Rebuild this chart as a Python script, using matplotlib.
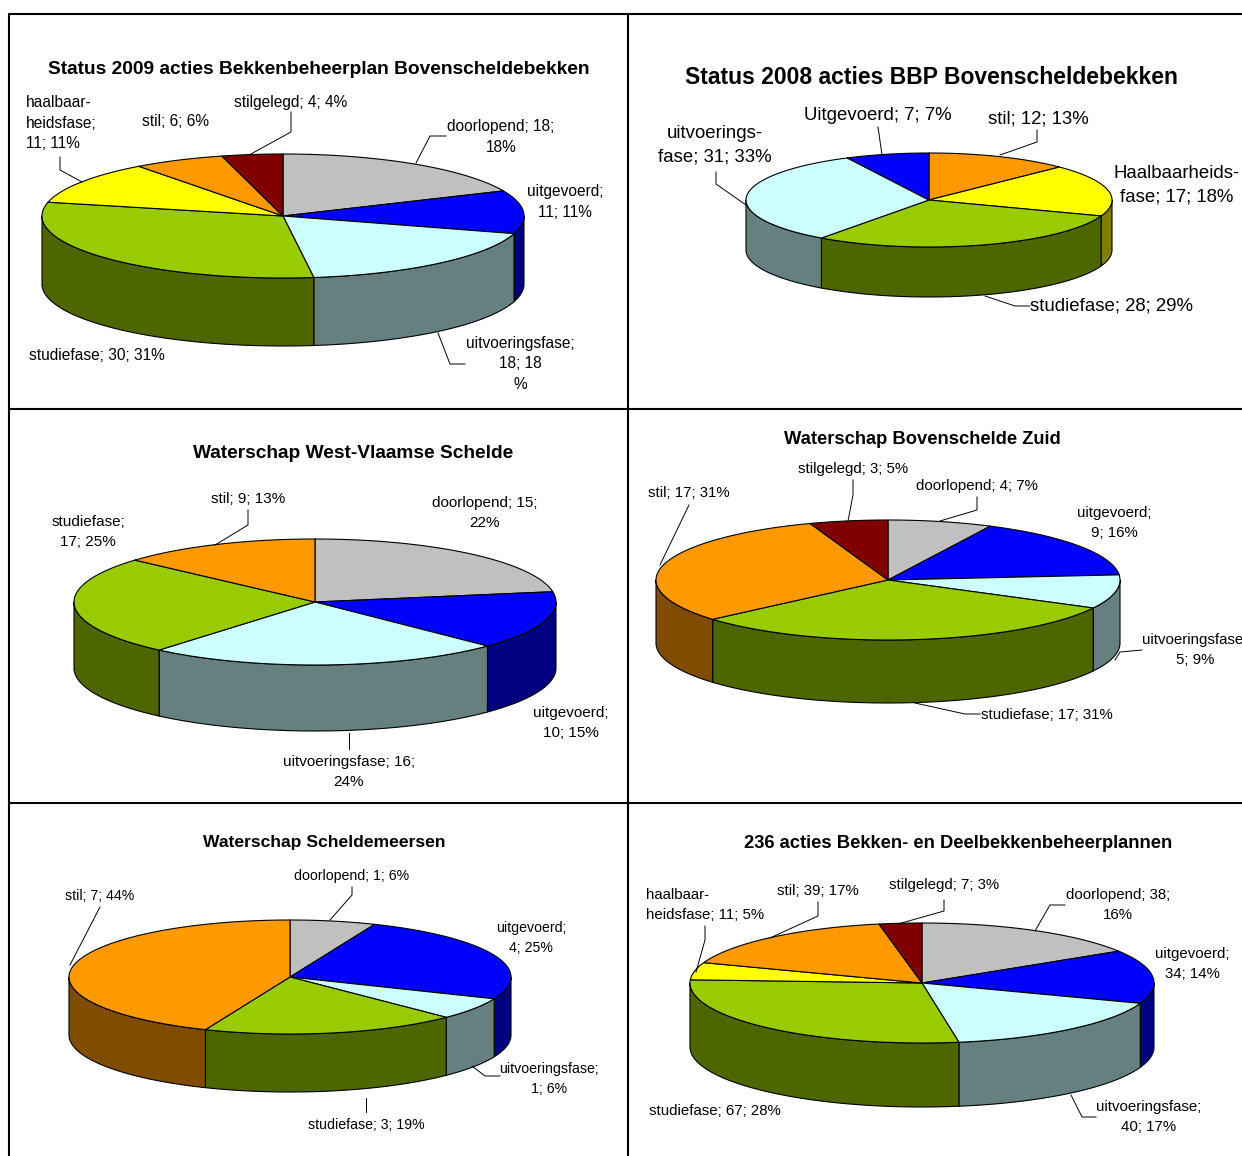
import numpy as np
import matplotlib
matplotlib.use("Agg")
import matplotlib.pyplot as plt
from matplotlib.patches import Polygon

plt.rcParams['font.family'] = ['Liberation Sans', 'DejaVu Sans']

# kleuren per status (boven, zijkant)
kleur = {
    'doorlopend': ('#C0C0C0', '#606060'),
    'uitgevoerd': ('#0000FF', '#000080'),
    'uitvoering': ('#CCFFFF', '#668080'),
    'studie': ('#99CC00', '#4D6600'),
    'haalbaar': ('#FFFF00', '#808000'),
    'stil': ('#FF9900', '#804D00'),
    'stilgelegd': ('#800000', '#400000'),
}

# gegevens
status_1 = ['doorlopend', 'uitgevoerd', 'uitvoering', 'studie', 'haalbaar', 'stil', 'stilgelegd']
acties_1 = [18, 11, 18, 30, 11, 6, 4]
status_2 = ['stil', 'haalbaar', 'studie', 'uitvoering', 'uitgevoerd']
acties_2 = [12, 17, 28, 31, 7]
status_3 = ['doorlopend', 'uitgevoerd', 'uitvoering', 'studie', 'stil']
acties_3 = [15, 10, 16, 17, 9]
status_4 = ['doorlopend', 'uitgevoerd', 'uitvoering', 'studie', 'stil', 'stilgelegd']
acties_4 = [4, 9, 5, 17, 17, 3]
status_5 = ['doorlopend', 'uitgevoerd', 'uitvoering', 'studie', 'stil']
acties_5 = [1, 4, 1, 3, 7]
status_6 = ['doorlopend', 'uitgevoerd', 'uitvoering', 'studie', 'haalbaar', 'stil', 'stilgelegd']
acties_6 = [38, 34, 40, 67, 11, 39, 7]

titels = ['Status 2009 acties Bekkenbeheerplan Bovenscheldebekken',
          'Status 2008 acties BBP Bovenscheldebekken',
          'Waterschap West-Vlaamse Schelde',
          'Waterschap Bovenschelde Zuid',
          'Waterschap Scheldemeersen',
          '236 acties Bekken- en Deelbekkenbeheerplannen']

labels_1 = ['haalbaar-\nheidsfase;\n11; 11%', 'stil; 6; 6%', 'stilgelegd; 4; 4%', 'doorlopend; 18;\n18%',
            'uitgevoerd;\n11; 11%', 'uitvoeringsfase;\n18; 18\n%', 'studiefase; 30; 31%']
labels_2 = ['uitvoerings-\nfase; 31; 33%', 'Uitgevoerd; 7; 7%', 'stil; 12; 13%',
            'Haalbaarheids-\nfase; 17; 18%', 'studiefase; 28; 29%']
labels_3 = ['stil; 9; 13%', 'doorlopend; 15;\n22%', 'studiefase;\n17; 25%', 'uitgevoerd;\n10; 15%',
            'uitvoeringsfase; 16;\n24%']
labels_4 = ['stilgelegd; 3; 5%', 'stil; 17; 31%', 'doorlopend; 4; 7%', 'uitgevoerd;\n9; 16%',
            'uitvoeringsfase;\n5; 9%', 'studiefase; 17; 31%']
labels_5 = ['doorlopend; 1; 6%', 'stil; 7; 44%', 'uitgevoerd;\n4; 25%', 'uitvoeringsfase;\n1; 6%',
            'studiefase; 3; 19%']
labels_6 = ['haalbaar-\nheidsfase; 11; 5%', 'stil; 39; 17%', 'stilgelegd; 7; 3%', 'doorlopend; 38;\n16%',
            'uitgevoerd;\n34; 14%', 'uitvoeringsfase;\n40; 17%', 'studiefase; 67; 28%']

# opmaak per grafiek: middelpunt x, y, straal x, straal y, dikte
vorm = [(283, 216, 241, 62, 68), (929, 200, 183, 47, 50), (315, 602, 241, 63, 66),
        (888, 580, 232, 60, 63), (290, 977, 221, 57, 58), (922, 983, 232, 60, 64)]
titel_pos = [(319, 70, 13.75), (931, 77, 16.5), (353, 454, 13.75), (922, 440, 13.2), (324, 842, 12.6), (958, 844, 13.25)]
label_pt = [11.2, 13.4, 11.0, 10.8, 10.2, 10.8]

label_pos = [
    [(26, 123), (175, 122), (291, 103), (501, 137), (565, 202), (520, 364), (97, 355)],
    [(715, 145), (878, 116), (1038, 119), (1177, 185), (1112, 306)],
    [(248, 499), (485, 513), (88, 532), (571, 723), (349, 772)],
    [(853, 469), (689, 493), (977, 486), (1114, 523), (1195, 650), (1047, 715)],
    [(352, 876), (100, 896), (531, 938), (549, 1079), (366, 1125)],
    [(646, 905), (818, 891), (944, 885), (1118, 905), (1192, 964), (1149, 1117), (715, 1111)],
]
links_uitgelijnd = {(0, 0), (5, 0)}

lijnen = [
    [[(291, 112), (291, 132), (249, 155)], [(60, 157), (60, 170), (82, 182)], [(446, 136), (430, 136), (416, 163)],
     [(438, 333), (450, 364), (465, 364)]],
    [[(878, 127), (882, 155)], [(1037, 130), (1037, 142), (1000, 155)], [(716, 172), (716, 184), (746, 205)],
     [(985, 296), (1015, 306), (1030, 306)]],
    [[(248, 510), (248, 525), (215, 545)], [(349, 733), (349, 749)]],
    [[(689, 505), (660, 565)], [(853, 480), (853, 495), (848, 521)], [(977, 497), (977, 510), (940, 521)],
     [(1142, 650), (1120, 652), (1115, 660)], [(915, 703), (965, 714), (980, 714)]],
    [[(352, 887), (352, 895), (330, 920)], [(100, 907), (70, 965)], [(500, 1076), (485, 1076), (472, 1066)],
     [(366, 1098), (366, 1112)]],
    [[(705, 926), (705, 940), (696, 972)], [(818, 902), (818, 916), (770, 938)], [(944, 900), (944, 911), (898, 924)],
     [(1065, 905), (1050, 905), (1035, 931)], [(1096, 1117), (1082, 1117), (1071, 1095)]],
]


def punt(t, cx, cy, rx, ry):
    return cx + rx * np.sin(t), cy - ry * np.cos(t)


def teken_pie(ax, status, acties, cx, cy, rx, ry, dikte):
    hoeken = np.concatenate([[0], np.cumsum(acties)]) / sum(acties) * 2 * np.pi
    # zijkant, alleen de voorkant (pi/2 tot 3pi/2) is zichtbaar
    for s, a, b in zip(status, hoeken[:-1], hoeken[1:]):
        lo, hi = max(a, np.pi / 2), min(b, 3 * np.pi / 2)
        if hi <= lo:
            continue
        t = np.linspace(lo, hi, 80)
        x, y = punt(t, cx, cy, rx, ry)
        xy = np.r_[np.c_[x, y], np.c_[x[::-1], y[::-1] + dikte]]
        ax.add_patch(Polygon(xy, fc=kleur[s][1], ec='black', lw=0.8, joinstyle='round'))
    # bovenkant
    for s, a, b in zip(status, hoeken[:-1], hoeken[1:]):
        t = np.linspace(a, b, 120)
        x, y = punt(t, cx, cy, rx, ry)
        xy = np.r_[[(cx, cy)], np.c_[x, y]]
        ax.add_patch(Polygon(xy, fc=kleur[s][0], ec='black', lw=0.8, joinstyle='round'))


fig = plt.figure(figsize=(12.42, 11.56), dpi=100)
ax = fig.add_axes([0, 0, 1, 1])
ax.set_xlim(0, 1242)
ax.set_ylim(1156, 0)
ax.axis('off')

# kader van de tabel
for x in (8.5, 627.5):
    ax.plot([x, x], [13, 1156], color='black', lw=1.5, solid_capstyle='butt')
for y in (13.5, 408.5, 802.5):
    ax.plot([8, 1242], [y, y], color='black', lw=1.5, solid_capstyle='butt')

alle_status = [status_1, status_2, status_3, status_4, status_5, status_6]
alle_acties = [acties_1, acties_2, acties_3, acties_4, acties_5, acties_6]
alle_labels = [labels_1, labels_2, labels_3, labels_4, labels_5, labels_6]

for i in range(6):
    teken_pie(ax, alle_status[i], alle_acties[i], *vorm[i])
    tx, ty, tpt = titel_pos[i]
    ax.text(tx, ty, titels[i], ha='center', va='center', fontsize=tpt, fontweight='bold', color='black')
    for lijn in lijnen[i]:
        ax.plot(*zip(*lijn), color='black', lw=0.7)
    for j, (tekst, (x, y)) in enumerate(zip(alle_labels[i], label_pos[i])):
        ha = 'left' if (i, j) in links_uitgelijnd else 'center'
        ax.text(x, y, tekst, ha=ha, va='center', multialignment=ha, fontsize=label_pt[i],
                linespacing=1.48, color='black', clip_on=True)

fig.savefig('out.png', dpi=100)
